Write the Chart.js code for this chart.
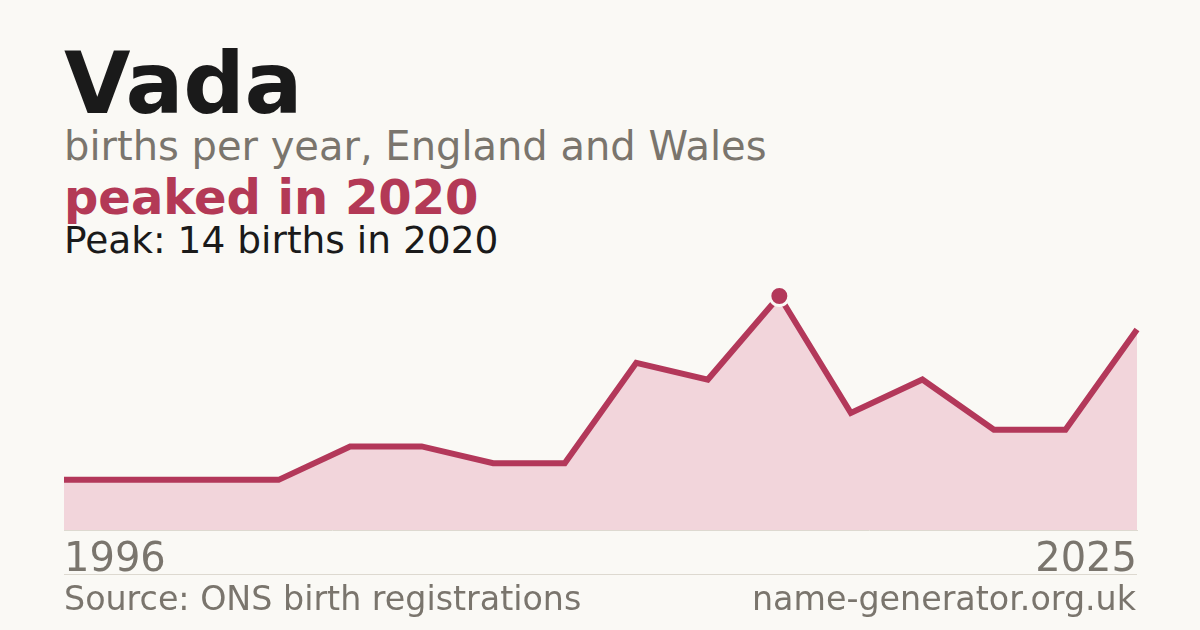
<!DOCTYPE html>
<html>
<head>
<meta charset="utf-8">
<script src="https://cdn.jsdelivr.net/npm/chart.js@4/dist/chart.umd.min.js"></script>
<style>
  html, body { margin: 0; padding: 0; }
  body {
    width: 1200px; height: 630px; overflow: hidden; position: relative;
    background: #FAF9F5; font-family: "DejaVu Sans", sans-serif;
  }
  .t { position: absolute; left: 64px; line-height: 1; white-space: nowrap; }
  #title { top: 40px; font-size: 86px; font-weight: bold; color: #1A1A1A; letter-spacing: -0.3px; }
  #sub { top: 126px; font-size: 40px; color: #7A756D; }
  #trend { top: 173px; font-size: 48px; font-weight: bold; color: #B33956; }
  #peak { top: 222px; font-size: 37.5px; color: #1A1A1A; }
  #rule { position: absolute; left: 64px; width: 1073px; top: 574px; height: 1px; background: #DDD9D0; }
  .foot { top: 582px; font-size: 33.3px; color: #7A756D; }
  #site { left: auto; right: 64px; }
  #wrap { position: absolute; left: 44px; top: 276px; width: 1113px; height: 304px; }
</style>
</head>
<body>
<div class="t" id="title">Vada</div>
<div class="t" id="sub">births per year, England and Wales</div>
<div class="t" id="trend">peaked in 2020</div>
<div class="t" id="peak">Peak: 14 births in 2020</div>
<div id="wrap"><canvas id="chart"></canvas></div>
<div id="rule"></div>
<div class="t foot" id="src">Source: ONS birth registrations</div>
<div class="t foot" id="site">name-generator.org.uk</div>

<script>
// years with recorded births (only first and last are labelled)
const years  = ["1996", "2003", "2006", "2009", "2011", "2013", "2014", "2016",
                "2018", "2019", "2020", "2021", "2022", "2023", "2024", "2025"]
const births = [3, 3, 3, 3, 5, 5, 4, 4, 10, 9, 14, 7, 9, 6, 6, 12]

const red  = "#B3385A"
const fill = "#F2D5DB"
const bg   = "#FAF9F5"
const grey = "#7A756D"

const peakIdx = births.indexOf(Math.max(...births))

new Chart(document.getElementById("chart"), {
  type: "line",
  data: {
    labels: years,
    datasets: [{
      data: births,
      borderColor: red,
      backgroundColor: fill,
      borderWidth: 6,
      fill: "origin",
      tension: 0,
      clip: false,
      pointRadius: births.map((_, i) => i === peakIdx ? 9.5 : 0),
      pointBackgroundColor: red,
      pointBorderColor: bg,
      pointBorderWidth: 3,
      pointHoverRadius: 0
    }]
  },
  options: {
    responsive: true,
    maintainAspectRatio: false,
    animation: false,
    events: [],
    layout: { padding: { left: 20, right: 20, top: 20, bottom: 0 } },
    plugins: { legend: { display: false }, tooltip: { enabled: false } },
    scales: {
      x: {
        grid: { display: false, drawTicks: false },
        border: { display: true, color: "#DDD9D0", width: 1 },
        afterFit: (s) => { s.height = 50 },
        ticks: {
          autoSkip: false,
          maxRotation: 0,
          align: "inner",
          padding: 7,
          color: grey,
          font: { family: "DejaVu Sans", size: 40 },
          callback: (v, i) => (i === 0 || i === years.length - 1) ? years[i] : ""
        }
      },
      y: { display: false, min: 0, max: 14 }
    }
  }
})
</script>
</body>
</html>
